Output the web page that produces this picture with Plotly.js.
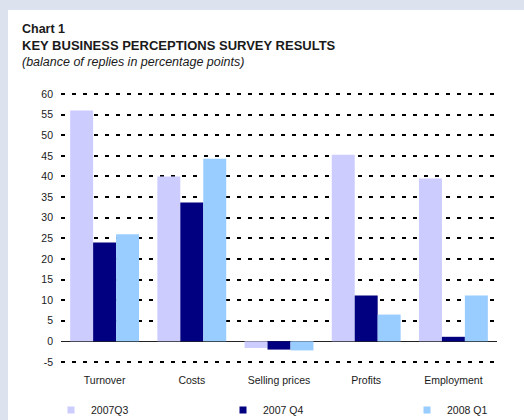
<!DOCTYPE html>
<html>
<head>
<meta charset="utf-8">
<script src="https://cdn.plot.ly/plotly-3.0.1.min.js"></script>
<style>html,body{margin:0;padding:0;background:#dce3ee;}#chart{width:524px;height:420px;}</style>
</head>
<body>
<div id="chart"></div>
<script>
const categories = ['Turnover', 'Costs', 'Selling prices', 'Profits', 'Employment'];
const seriesNames = ['2007Q3', '2007 Q4', '2008 Q1'];
const values2007Q3 = [56, 40, -1.6, 45.3, 39.5];
const values2007Q4 = [24, 33.7, -2.0, 11.1, 1.1];
const values2008Q1 = [26, 44.3, -2.2, 6.5, 11.1];
const yTicks = [-5, 0, 5, 10, 15, 20, 25, 30, 35, 40, 45, 50, 55, 60];

const colors = ['#ccccff', '#000080', '#99ccff'];
const seriesValues = [values2007Q3, values2007Q4, values2008Q1];
const legendIds = ['legend', 'legend2', 'legend3'];
const legendLeftPx = [51, 223, 407];

const W = 524, H = 420;
const M = {l: 61, r: 27, t: 92, b: 56};
const plotW = W - M.l - M.r, plotH = H - M.t - M.b;
const px2x = p => (p - M.l) / plotW;
const py2y = p => (H - M.b - p) / plotH;

const font = {family: '"Liberation Sans", Arial, sans-serif', color: '#1a1a1a'};

const traces = [];
seriesValues.forEach((vals, i) => {
  traces.push({
    type: 'bar', x: categories, y: vals, name: seriesNames[i],
    marker: {color: colors[i], line: {width: 0}},
    showlegend: false, legendgroup: 'g' + i, hoverinfo: 'x+y+name'
  });
});
seriesValues.forEach((vals, i) => {
  traces.push({
    type: 'scatter', mode: 'markers', x: [null], y: [null], name: seriesNames[i],
    marker: {color: colors[i], symbol: 'square', size: 7},
    showlegend: true, legendgroup: 'g' + i, legend: legendIds[i], hoverinfo: 'skip'
  });
});

const layout = {
  width: W, height: H,
  margin: M,
  paper_bgcolor: '#dce3ee',
  plot_bgcolor: 'rgba(0,0,0,0)',
  font: Object.assign({size: 10.5}, font),
  barmode: 'group', bargap: 0.21, bargroupgap: 0,
  showlegend: true,
  xaxis: {
    type: 'category', showgrid: false, showline: false, zeroline: false,
    ticks: '', ticklabelstandoff: 8, tickfont: Object.assign({size: 10.5}, font),
    fixedrange: true
  },
  yaxis: {
    range: [-5.5, 60.5], tickvals: yTicks, ticktext: yTicks.map(String),
    showgrid: true, gridcolor: '#000000', gridwidth: 2, griddash: '4px,7px',
    zeroline: true, zerolinecolor: '#222222', zerolinewidth: 1.6,
    showline: false, ticks: '', ticklabelstandoff: 7,
    tickfont: Object.assign({size: 10.5}, font), fixedrange: true
  },
  shapes: [{
    type: 'rect', xref: 'paper', yref: 'paper', layer: 'below',
    x0: px2x(8), x1: px2x(530), y0: py2y(10), y1: py2y(430),
    fillcolor: '#ffffff', line: {width: 0}
  }],
  annotations: [
    {text: '<b>Chart 1</b>', xref: 'paper', yref: 'paper', x: px2x(20), y: py2y(29),
     xanchor: 'left', yanchor: 'middle', showarrow: false, font: Object.assign({size: 12.5}, font)},
    {text: '<b>KEY BUSINESS PERCEPTIONS SURVEY RESULTS</b>', xref: 'paper', yref: 'paper', x: px2x(20), y: py2y(46),
     xanchor: 'left', yanchor: 'middle', showarrow: false, font: Object.assign({size: 13}, font)},
    {text: '<i>(balance of replies in percentage points)</i>', xref: 'paper', yref: 'paper', x: px2x(20), y: py2y(62),
     xanchor: 'left', yanchor: 'middle', showarrow: false, font: Object.assign({size: 12.5}, font)}
  ]
};

legendIds.forEach((id, i) => {
  layout[id] = {
    orientation: 'h', xref: 'container', yref: 'container',
    x: legendLeftPx[i] / W, y: (H - 410) / H, xanchor: 'left', yanchor: 'middle',
    font: Object.assign({size: 10.5}, font), bgcolor: 'rgba(0,0,0,0)'
  };
});

Plotly.newPlot('chart', traces, layout, {displayModeBar: false, staticPlot: true});
</script>
</body>
</html>
